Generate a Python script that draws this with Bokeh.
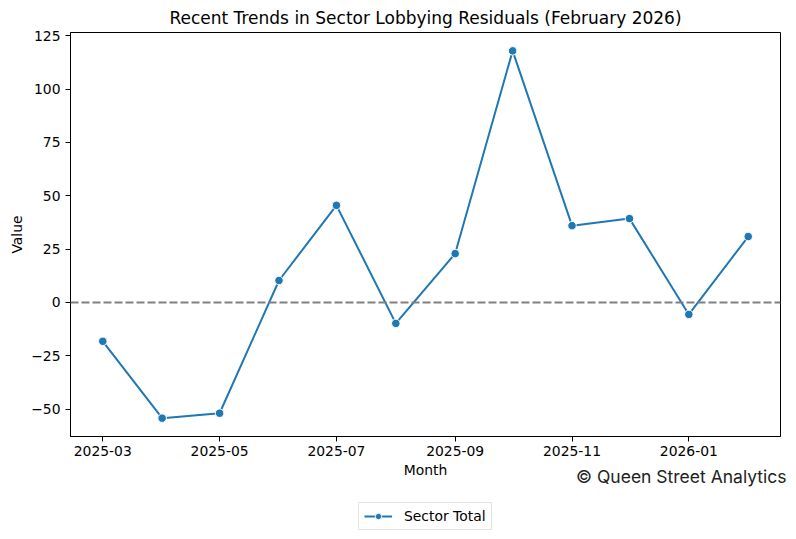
import numpy as np
import pandas as pd
from bokeh.plotting import figure
from bokeh.layouts import column
from bokeh.models import (Range1d, Span, Title, Legend, LegendItem, MonthsTicker,
                          DatetimeTickFormatter, SingleIntervalTicker, CustomJSTickFormatter)
from bokeh.embed import file_html
from bokeh.resources import INLINE

# ---- data ----
months = ["2025-03", "2025-04", "2025-05", "2025-06", "2025-07", "2025-08",
          "2025-09", "2025-10", "2025-11", "2025-12", "2026-01", "2026-02"]
values = [-18.2, -54.2, -51.9, 10.3, 45.5, -9.8, 22.9, 117.9, 36.0, 39.3, -5.6, 30.9]
series_name = "Sector Total"
title_text = "Recent Trends in Sector Lobbying Residuals (February 2026)"
x_label = "Month"
y_label = "Value"
credit = "\u00a9 Queen Street Analytics"

dates = pd.to_datetime(months)
vals = np.array(values)

# matplotlib-like 5% margins
xspan = dates.max() - dates.min()
x_start = dates.min() - xspan * 0.05
x_end = dates.max() + xspan * 0.05
yspan = vals.max() - vals.min()
y_start = vals.min() - 0.05 * yspan
y_end = vals.max() + 0.05 * yspan

FONT = "DejaVu Sans"
BLUE = "#1f77b4"

p = figure(width=796, height=490, output_backend="svg", toolbar_location=None,
           x_axis_type="datetime",
           x_range=Range1d(x_start, x_end), y_range=Range1d(y_start, y_end),
           min_border_left=70, min_border_right=16, min_border_top=32, min_border_bottom=54)

p.title.text = title_text
p.title.align = "center"
p.title.text_font = FONT
p.title.text_font_size = "17px"
p.title.text_font_style = "normal"
p.title.text_color = "black"
p.title.standoff = 8
p.title.vertical_align = "middle"

p.outline_line_color = "black"
p.outline_line_alpha = 1
p.outline_line_width = 1
p.xgrid.visible = False
p.ygrid.visible = False
p.background_fill_color = "white"
p.border_fill_color = "white"

for ax in (p.xaxis[0], p.yaxis[0]):
    ax.axis_line_color = "black"
    ax.major_tick_line_color = "black"
    ax.major_tick_out = 5
    ax.major_tick_in = 0
    ax.minor_tick_line_color = None
    ax.major_label_text_font = FONT
    ax.major_label_text_font_size = "13.9px"
    ax.major_label_text_color = "black"
    ax.axis_label_text_font = FONT
    ax.axis_label_text_font_size = "13.9px"
    ax.axis_label_text_font_style = "normal"
    ax.axis_label_text_color = "black"

p.xaxis[0].major_label_standoff = 4
p.xaxis[0].axis_label_standoff = 3
p.yaxis[0].major_label_standoff = 5
p.yaxis[0].axis_label_standoff = 3

p.xaxis[0].axis_label = x_label
p.yaxis[0].axis_label = y_label
p.xaxis[0].ticker = MonthsTicker(months=[0, 2, 4, 6, 8, 10])
p.xaxis[0].formatter = DatetimeTickFormatter(days="%Y-%m", months="%Y-%m", years="%Y-%m")
p.yaxis[0].ticker = SingleIntervalTicker(interval=25)
p.yaxis[0].formatter = CustomJSTickFormatter(code="return String(tick).replace('-', '\\u2212');")

zero = Span(location=0, dimension="width", line_color="gray", line_width=2, line_dash="8 3")
p.add_layout(zero)

line_r = p.line(dates, vals, line_color=BLUE, line_width=2)
pts_r = p.scatter(dates, vals, size=8.5, fill_color=BLUE, line_color="white", line_width=1)

credit_title = Title(text=credit, align="right", vertical_align="top", standoff=-29, offset=-6,
                     text_font="Inter", text_font_size="17.5px", text_font_style="normal",
                     text_color="#222222")
p.add_layout(credit_title, "below")

# ---- legend strip below the plot (same series, outside this strip's view) ----
lf = figure(width=796, height=49, output_backend="svg", toolbar_location=None,
            x_axis_location=None, y_axis_location=None,
            x_range=Range1d(0, 1), y_range=Range1d(0, 1),
            min_border=0, min_border_left=0, min_border_right=0,
            min_border_top=0, min_border_bottom=0)
lf.outline_line_color = None
lf.xgrid.visible = False
lf.ygrid.visible = False
lf.background_fill_color = "white"
lf.border_fill_color = "white"
leg_line = lf.line(dates, vals, line_color=BLUE, line_width=2)
leg_pts = lf.scatter(dates, vals, size=8.5, fill_color=BLUE, line_color="white", line_width=1)

legend = Legend(items=[LegendItem(label=series_name, renderers=[leg_line, leg_pts])],
                location=(288, 9), orientation="horizontal",
                label_text_font=FONT, label_text_font_size="13.9px", label_text_color="black",
                glyph_width=28, glyph_height=16, label_standoff=12,
                padding=5, margin=0, spacing=0,
                border_line_color="#cccccc", border_line_width=1,
                background_fill_color="white", background_fill_alpha=1)
lf.add_layout(legend)

layout = column(p, lf)
open("out.html", "w").write(file_html(layout, INLINE))
